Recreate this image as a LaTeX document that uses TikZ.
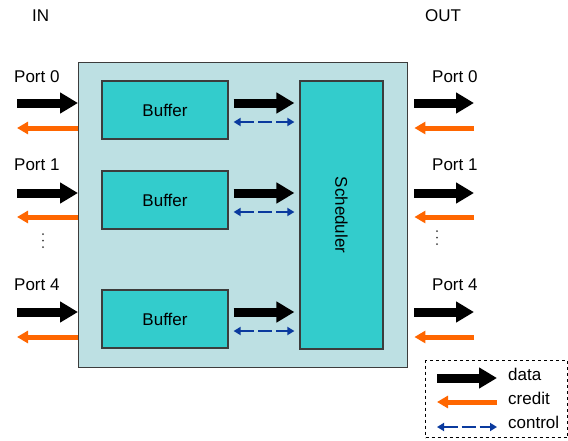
\documentclass[tikz,border=0pt]{standalone}
\usepackage{fontspec}
\setmainfont{Liberation Sans}
\usetikzlibrary{arrows.meta}
\definecolor{switchteal}{HTML}{BDE0E3}
\definecolor{buffercyan}{HTML}{33CCCC}
\definecolor{creditorange}{HTML}{FF6600}
\definecolor{controlblue}{HTML}{0A3A9E}
\definecolor{framegray}{HTML}{3C3C3C}
\tikzset{
  label text/.style={font=\fontsize{17}{20}\selectfont,inner sep=0pt},
  switch box/.style={draw=framegray,fill=switchteal,line width=1.4pt,inner sep=0pt},
  unit box/.style={draw=framegray,fill=buffercyan,line width=1.2pt,inner sep=0pt,
    font=\fontsize{17}{20}\selectfont},
  data/.style={draw=black,line width=9pt,-{Triangle[length=18pt,width=20pt]}},
  credit/.style={draw=creditorange,line width=5pt,-{Triangle[length=11pt,width=12pt]}},
  control/.style={draw=controlblue,line width=2.6pt,dash pattern=on 14pt off 4pt,
    {Triangle[length=7pt,width=8pt]}-{Triangle[length=7pt,width=8pt]}},
  legend box/.style={draw=black,dashed,line width=1.2pt,inner sep=0pt},
  ellipsis dot/.style={fill=black!75}
}

\begin{document}
\begin{tikzpicture}[x=1pt,y=-1pt]
  \path[use as bounding box,fill=white] (0,0) rectangle (568,440);

  % switch with buffers and scheduler
  \node[switch box,minimum width=329pt,minimum height=305pt,anchor=north west]
    (switch) at (78,62) {};
  \node[unit box,minimum width=126pt,minimum height=58pt] (buf0) at (165,110) {Buffer};
  \node[unit box,minimum width=126pt,minimum height=58pt] (buf1) at (165,200) {Buffer};
  \node[unit box,minimum width=126pt,minimum height=58pt] (buf4) at (165,319) {Buffer};
  \node[unit box,minimum width=83pt,minimum height=268pt] (sched) at (341.5,215) {};
  \node[label text,rotate=-90] (schedtext) at (sched.center) {Scheduler};

  % headings
  \node[label text,anchor=west] (intitle) at (32,16) {IN};
  \node[label text,anchor=west] (outtitle) at (425,16) {OUT};

  % input ports
  \node[label text,anchor=west] (inport0) at (14,77) {Port 0};
  \node[label text,anchor=west] (inport1) at (14,165) {Port 1};
  \node[label text,anchor=west] (inport4) at (14,285) {Port 4};
  \foreach \d in {0,1,2}
    \fill[ellipsis dot] (43,234+6.5*\d) circle (1pt);
  \coordinate (in0) at (17,103);
  \coordinate (in1) at (17,193);
  \coordinate (in4) at (17,312);
  \coordinate (cin0) at (17,128);
  \coordinate (cin1) at (17,217);
  \coordinate (cin4) at (17,337);
  \draw[data] (in0) -- (in0 -| switch.west);
  \draw[data] (in1) -- (in1 -| switch.west);
  \draw[data] (in4) -- (in4 -| switch.west);
  \draw[credit] (cin0 -| switch.west) -- (cin0);
  \draw[credit] (cin1 -| switch.west) -- (cin1);
  \draw[credit] (cin4 -| switch.west) -- (cin4);

  % buffers to scheduler
  \draw[data] ([xshift=5pt,yshift=7pt]buf0.east) -- ([xshift=-5pt,yshift=7pt]buf0.east -| sched.west);
  \draw[data] ([xshift=5pt,yshift=7pt]buf1.east) -- ([xshift=-5pt,yshift=7pt]buf1.east -| sched.west);
  \draw[data] ([xshift=5pt,yshift=7pt]buf4.east) -- ([xshift=-5pt,yshift=7pt]buf4.east -| sched.west);
  \draw[control] ([xshift=5pt,yshift=-12pt]buf0.east) -- ([xshift=-5pt,yshift=-12pt]buf0.east -| sched.west);
  \draw[control] ([xshift=5pt,yshift=-12pt]buf1.east) -- ([xshift=-5pt,yshift=-12pt]buf1.east -| sched.west);
  \draw[control] ([xshift=5pt,yshift=-12pt]buf4.east) -- ([xshift=-5pt,yshift=-12pt]buf4.east -| sched.west);

  % output ports
  \node[label text,anchor=west] (outport0) at (432,77) {Port 0};
  \node[label text,anchor=west] (outport1) at (432,165) {Port 1};
  \node[label text,anchor=west] (outport4) at (432,285) {Port 4};
  \foreach \d in {0,1,2}
    \fill[ellipsis dot] (437,231+6.5*\d) circle (1pt);
  \coordinate (out0) at (474,103);
  \coordinate (out1) at (474,193);
  \coordinate (out4) at (474,312);
  \coordinate (cout0) at (474,128);
  \coordinate (cout1) at (474,217);
  \coordinate (cout4) at (474,337);
  \draw[data] ([xshift=6pt]switch.east |- out0) -- (out0);
  \draw[data] ([xshift=6pt]switch.east |- out1) -- (out1);
  \draw[data] ([xshift=6pt]switch.east |- out4) -- (out4);
  \draw[credit] (cout0) -- ([xshift=6pt]switch.east |- cout0);
  \draw[credit] (cout1) -- ([xshift=6pt]switch.east |- cout1);
  \draw[credit] (cout4) -- ([xshift=6pt]switch.east |- cout4);

  % legend
  \node[legend box,minimum width=142pt,minimum height=77pt,anchor=north west]
    (legend) at (425,360) {};
  \coordinate (ldata) at (437,378);
  \coordinate (ldataend) at (497,378);
  \coordinate (lcredit) at (437,402);
  \coordinate (lcreditend) at (497,402);
  \coordinate (lcontrol) at (437,427);
  \coordinate (lcontrolend) at (497,427);
  \draw[data] (ldata) -- (ldataend);
  \draw[credit] (lcreditend) -- (lcredit);
  \draw[control] (lcontrol) -- (lcontrolend);
  \node[label text,anchor=west] (ldatatext) at (508,374) {data};
  \node[label text,anchor=west] (lcredittext) at (508,398) {credit};
  \node[label text,anchor=west] (lcontroltext) at (508,422) {control};
\end{tikzpicture}
\end{document}
